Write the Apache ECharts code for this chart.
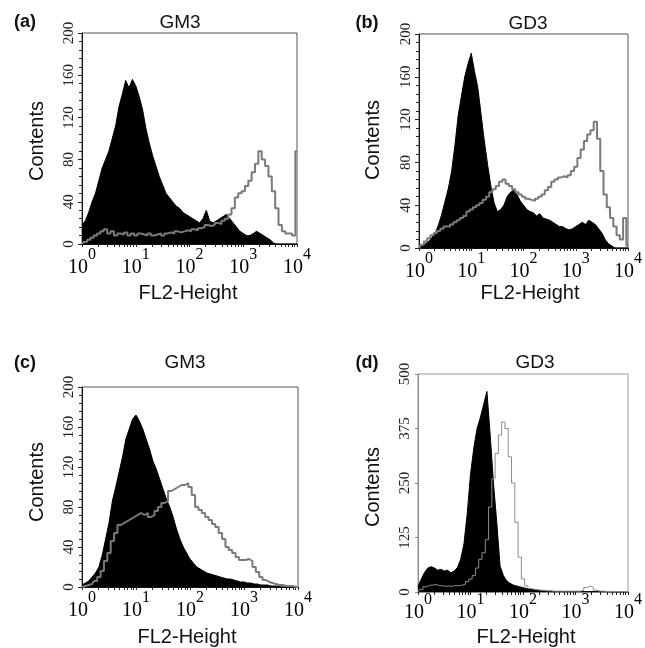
<!DOCTYPE html>
<html><head><meta charset="utf-8">
<script src="https://cdn.jsdelivr.net/npm/echarts@6/dist/echarts.min.js"></script>
<style>html,body{margin:0;padding:0;background:#fff}#c{width:645px;height:648px}</style>
</head><body><div id="c"></div>
<script>
// FL2 channel positions (256 channels per decade, 4 decades)
const channels = [0,16,32,48,64,80,96,112,128,144,160,176,192,208,224,240,
  256,272,288,304,320,336,352,368,384,400,416,432,448,464,480,496,
  512,528,544,560,576,592,608,624,640,656,672,688,704,720,736,752,
  768,784,800,816,832,848,864,880,896,912,928,944,960,976,992,1008,1024];
const decadeLabels = [0,1,2,3,4];
const minorTickMultipliers = [2,3,4,5,6,7,8,9];
const panelTags = ['(a)','(b)','(c)','(d)'];
const panelTitles = ['GM3','GD3','GM3','GD3'];
const yTicksABC = [0,40,80,120,160,200];
const yTicksD = [0,125,250,375,500];

const blackA = [18,22,30,40,48,60,72,80,88,100,112,130,142,155,148,156,
  150,140,128,110,96,84,74,64,56,48,44,40,36,34,30,28,
  26,24,22,20,24,32,22,20,22,24,26,28,24,20,16,12,
  10,8,8,10,12,10,8,6,4,1,0,0,0,0,0,0,0];
const grayA = [0,2,4,6,8,10,12,14,10,12,8,10,9,11,8,10,
  8,10,9,8,10,8,9,10,8,10,11,10,12,11,12,13,
  12,14,13,15,16,18,17,18,20,19,22,24,28,34,44,48,
  50,55,60,68,76,88,80,74,64,50,34,18,12,10,10,8,88];
const blackB = [0,2,4,6,10,14,22,32,44,56,72,96,124,142,160,172,
  182,165,150,125,100,78,58,42,34,36,40,48,52,54,50,44,
  40,36,34,33,30,32,28,27,26,24,22,20,20,18,17,18,
  20,22,24,22,26,24,22,18,14,8,4,2,0,0,0,0,0];
const grayB = [0,3,6,9,12,14,16,18,20,20,22,24,26,28,30,34,
  36,38,40,42,45,48,52,55,58,62,64,60,58,55,52,50,
  48,46,45,44,46,48,50,54,57,62,64,66,67,66,68,72,
  76,84,92,100,106,110,118,102,72,50,38,28,20,12,8,28,2];
const blackC = [2,4,6,10,14,20,32,48,64,86,100,115,130,148,158,168,
  172,166,158,148,138,126,118,108,98,88,80,70,58,48,40,34,
  28,24,20,18,16,14,13,12,11,10,9,8,8,7,6,5,
  5,4,4,3,3,2,2,2,1,1,1,0,0,0,0,0,0];
const grayC = [0,1,2,3,6,10,16,26,34,46,54,62,64,66,68,70,
  72,74,72,74,70,72,76,80,84,86,96,98,100,102,102,104,
  100,92,80,77,74,70,67,63,60,54,48,40,37,34,30,27,
  27,28,26,20,15,10,7,5,4,3,2,2,1,1,1,0,0];
const blackD = [12,30,45,55,58,55,50,52,48,50,44,48,56,75,110,180,
  270,330,375,400,430,460,360,250,160,60,38,26,20,16,14,12,
  10,8,7,6,5,4,3,2,2,1,1,1,1,1,1,1,
  1,1,1,1,1,1,1,1,1,1,0,0,0,0,0,0,0];
const grayD = [0,6,12,15,16,17,15,14,13,14,13,15,14,16,18,24,
  30,38,55,75,90,120,195,260,318,360,390,375,310,250,160,80,
  30,14,8,6,5,4,4,3,3,2,2,2,2,2,2,2,
  2,2,4,10,14,10,4,2,2,1,1,1,1,1,1,1,1];

const blackSeries = [blackA, blackB, blackC, blackD];
const graySeries = [grayA, grayB, grayC, grayD];

// layout (pixels)
const grids = [
  {left:82, top:33, width:215, height:211},
  {left:419, top:34, width:216, height:214},
  {left:82, top:387, width:216, height:200},
  {left:418, top:374, width:219, height:218}
];
const tagPos = [[25,22],[367,23],[25,363],[367,363]];
const titlePos = [[180,23],[528,24],[185,363],[535,363]];
const yNamePos = [[37,141],[373,140],[37,482],[373,487]];
const xNamePos = [[188,293],[530,293],[187,637],[526,637]];

const tickExps = [];
decadeLabels.forEach(d => {
  tickExps.push(d);
  if (d < 4) minorTickMultipliers.forEach(m => tickExps.push(d + Math.log10(m)));
});

function pairs(arr) { return arr.map((v, i) => [channels[i] / 256, v]); }

const serif = 'Liberation Serif, Times New Roman, serif';
const sans = 'Liberation Sans, Arial, sans-serif';

const option = {
  animation: false,
  backgroundColor: '#fff',
  grid: grids.map((g, i) => Object.assign({show: true, borderColor: i === 3 ? '#9a9a9a' : '#555', borderWidth: 1, backgroundColor: 'transparent'}, g)),
  xAxis: grids.map((g, i) => ({
    type: 'value', gridIndex: i, min: 0, max: 4, interval: 1,
    axisLine: {show: true, lineStyle: {color: i === 3 ? '#8a8a8a' : '#111', width: 1}},
    axisTick: {show: true, length: 3, customValues: tickExps, lineStyle: {color: '#222'}},
    splitLine: {show: false},
    axisLabel: {
      margin: i === 3 ? 0 : 3,
      formatter: v => '{b|10}{s|' + v + '}',
      rich: {
        b: {fontFamily: serif, fontSize: 20, color: '#000', verticalAlign: 'bottom', lineHeight: 20},
        s: {fontFamily: serif, fontSize: 16, color: '#000', verticalAlign: 'top', lineHeight: 31}
      }
    }
  })),
  yAxis: grids.map((g, i) => ({
    type: 'value', gridIndex: i, min: 0,
    max: i === 3 ? yTicksD[yTicksD.length - 1] : yTicksABC[yTicksABC.length - 1],
    interval: i === 3 ? yTicksD[1] : yTicksABC[1],
    axisLine: {show: true, lineStyle: {color: i === 3 ? '#8a8a8a' : '#111', width: 1}},
    axisTick: {show: true, length: i === 3 ? 3 : 4, lineStyle: {color: i === 3 ? '#8a8a8a' : '#222'}},
    minorTick: {show: i !== 3, splitNumber: 5, length: 3, lineStyle: {color: '#222'}},
    splitLine: {show: false},
    axisLabel: {rotate: 90, margin: 5, fontFamily: serif, fontSize: 15, color: '#222'}
  })),
  series: [].concat(
    blackSeries.map((d, i) => ({
      type: 'line', xAxisIndex: i, yAxisIndex: i, data: pairs(d), symbol: 'none', z: 2,
      lineStyle: {color: '#000', width: 1}, areaStyle: {color: '#000', opacity: 1}
    })),
    graySeries.map((d, i) => ({
      type: 'line', xAxisIndex: i, yAxisIndex: i, data: pairs(d), symbol: 'none', z: 3, step: 'middle',
      lineStyle: {color: i === 3 ? '#8c8c8c' : '#7a7a7a', width: i === 3 ? 1 : 2}
    }))
  ),
  graphic: [].concat(
    panelTags.map((t, i) => ({type: 'text', x: tagPos[i][0], y: tagPos[i][1],
      style: {text: t, fontFamily: sans, fontSize: 18, fontWeight: 'bold', fill: '#111', align: 'center', verticalAlign: 'middle'}})),
    panelTitles.map((t, i) => ({type: 'text', x: titlePos[i][0], y: titlePos[i][1],
      style: {text: t, fontFamily: sans, fontSize: 19, fill: '#111', align: 'center', verticalAlign: 'middle'}})),
    yNamePos.map(p => ({type: 'text', x: p[0], y: p[1], rotation: Math.PI / 2,
      style: {text: 'Contents', fontFamily: sans, fontSize: 20, fill: '#111', align: 'center', verticalAlign: 'middle'}})),
    xNamePos.map(p => ({type: 'text', x: p[0], y: p[1],
      style: {text: 'FL2-Height', fontFamily: sans, fontSize: 20, fill: '#111', align: 'center', verticalAlign: 'middle'}}))
  )
};

const chart = echarts.init(document.getElementById('c'), null, {renderer: 'canvas'});
chart.setOption(option);
</script>
</body></html>
